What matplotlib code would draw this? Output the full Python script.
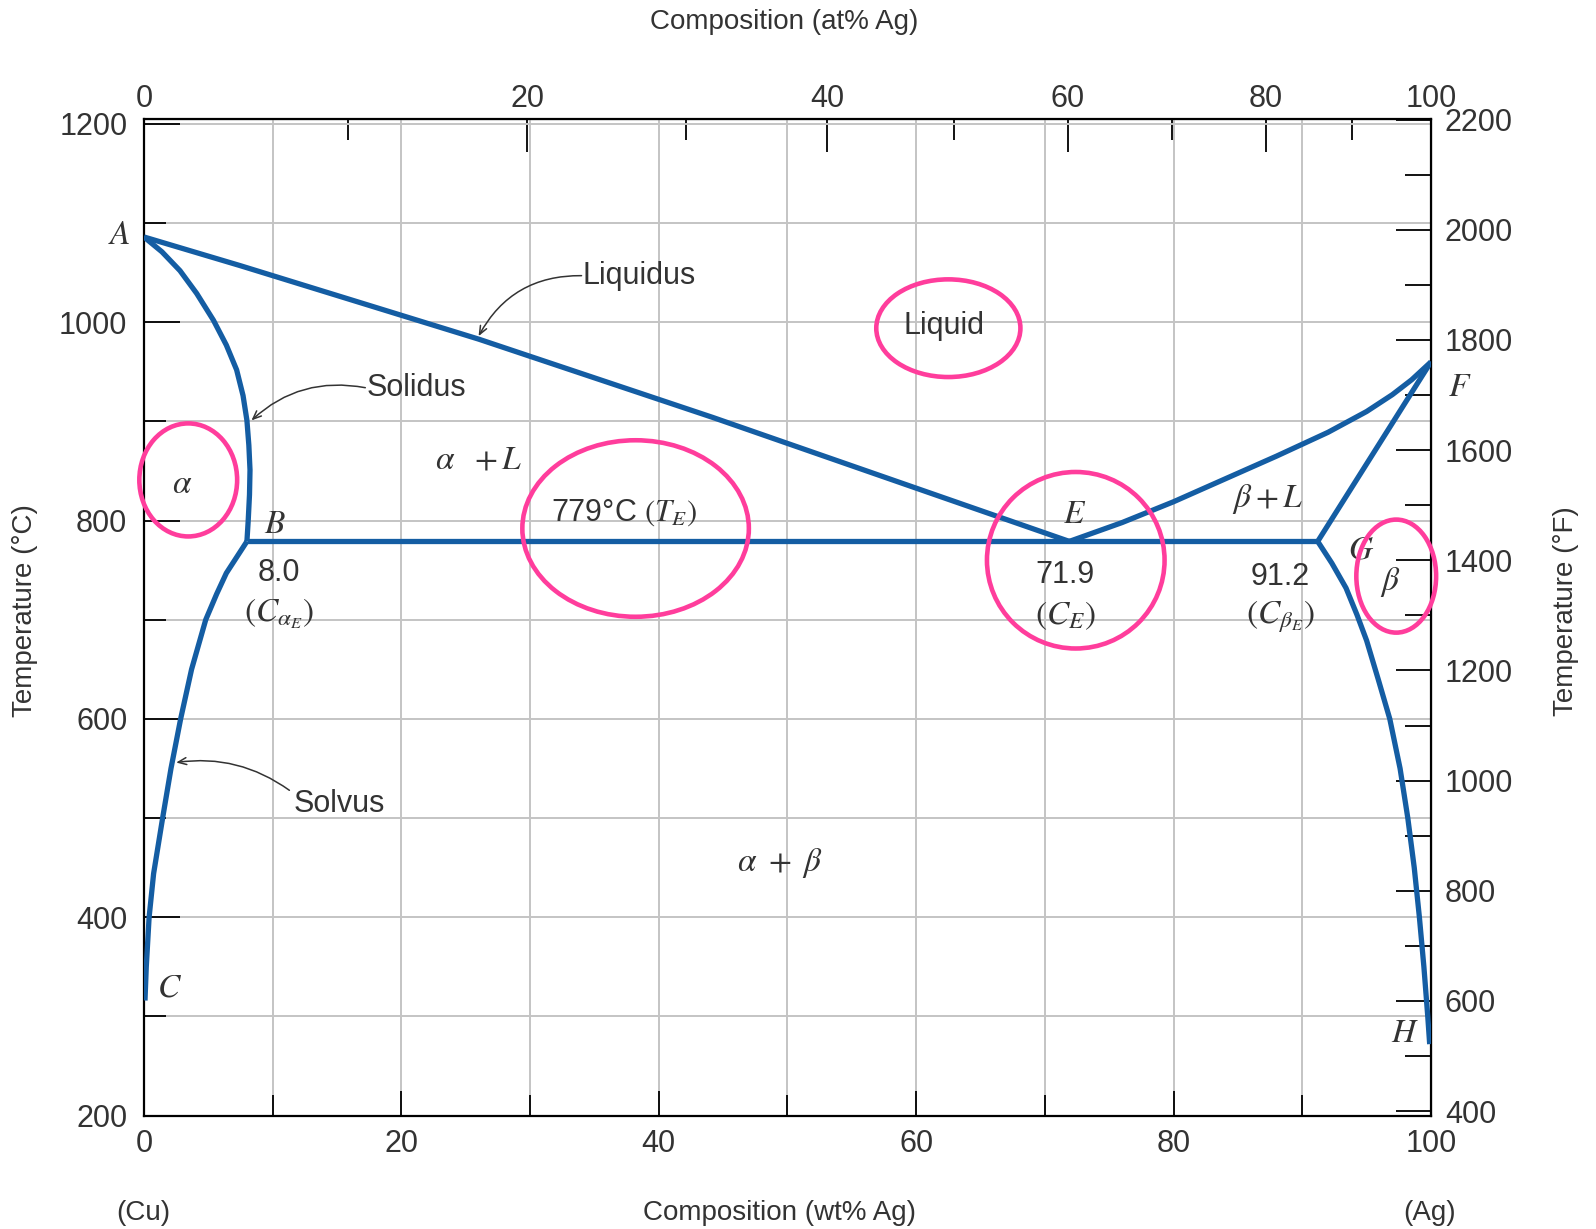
import numpy as np
import matplotlib.pyplot as plt
from matplotlib.patches import Ellipse

# Cu-Ag phase diagram, composition in wt% Ag, temperature in deg C
liquidus_ae_wt = [0, 7.5, 26.0, 44.2, 71.9]
liquidus_ae_t = [1086, 1057, 983, 904, 779]

liquidus_ef_wt = [71.9, 76, 80, 84, 88, 92, 95, 97, 98.5, 100]
liquidus_ef_t = [779, 798, 819, 842, 865, 889, 910, 927, 942, 960]

solidus_ab_wt = [0, 1.4, 2.8, 4.1, 5.4, 6.4, 7.2, 7.7, 8.0, 8.15, 8.24, 8.2, 8.1, 8.0]
solidus_ab_t = [1086, 1071, 1052, 1029, 1002, 977, 952, 926, 901, 876, 851, 826, 800, 779]

solvus_bc_wt = [8.0, 7.2, 6.4, 5.65, 4.8, 3.7, 2.85, 2.1, 1.45, 0.75, 0.4, 0.18, 0.08]
solvus_bc_t = [779, 763, 747, 726, 700, 650, 600, 550, 500, 444, 400, 350, 316]

solidus_fg_wt = [100, 91.2]
solidus_fg_t = [960, 779]

solvus_gh_wt = [91.2, 92.3, 93.4, 94.25, 95.0, 95.9, 96.8, 97.6, 98.2, 98.7, 99.1, 99.45,
                99.75, 99.9]
solvus_gh_t = [779, 757, 732, 705, 679, 640, 600, 550, 500, 450, 400, 350, 300, 272]

eutectic_wt = [8.0, 91.2]
eutectic_t = [779, 779]

x_ticks = [0, 20, 40, 60, 80, 100]
y_ticks_c = [200, 400, 600, 800, 1000, 1200]
y_ticks_f = [400, 600, 800, 1000, 1200, 1400, 1600, 1800, 2000, 2200]
top_ticks_at = [0, 20, 40, 60, 80, 100]

M_AG = 107.868
M_CU = 63.546


def wt_to_at(w):
    w = np.asarray(w, dtype=float)
    a = w / M_AG
    b = (100 - w) / M_CU
    return 100 * a / (a + b)


def at_to_wt(a):
    a = np.asarray(a, dtype=float)
    wa = a * M_AG
    wb = (100 - a) * M_CU
    return 100 * wa / (wa + wb)


def c_to_f(c):
    return np.asarray(c, dtype=float) * 1.8 + 32


def f_to_c(f):
    return (np.asarray(f, dtype=float) - 32) / 1.8


plt.rcParams['font.family'] = ['Liberation Sans', 'DejaVu Sans']
plt.rcParams['mathtext.fontset'] = 'stix'

TXT = '#333333'
BLUE = '#145da3'
PINK = '#ff3d9c'
FS = 22
MFS = 24

fig = plt.figure(figsize=(15.96, 12.29), dpi=100)
ax = fig.add_axes([0.0902, 0.0919, 0.8064, 0.8113])

line_kw = dict(color=BLUE, lw=3.8, solid_joinstyle='round', solid_capstyle='butt', zorder=3)
ax.plot(liquidus_ae_wt, liquidus_ae_t, **line_kw)
ax.plot(liquidus_ef_wt, liquidus_ef_t, **line_kw)
ax.plot(solidus_ab_wt, solidus_ab_t, **line_kw)
ax.plot(solvus_bc_wt, solvus_bc_t, **line_kw)
ax.plot(solidus_fg_wt, solidus_fg_t, **line_kw)
ax.plot(solvus_gh_wt, solvus_gh_t, **line_kw)
ax.plot(eutectic_wt, eutectic_t, **line_kw)

ax.set_xlim(0, 100)
ax.set_ylim(199.5, 1205)

# ticks and grid
ax.set_xticks(x_ticks)
ax.set_xticks(range(0, 101, 10), minor=True)
ax.set_yticks(y_ticks_c)
ax.set_yticks(range(200, 1201, 100), minor=True)
ax.grid(which='both', color='#c4c4c4', lw=1.4, zorder=0)
ax.tick_params(axis='x', which='major', direction='in', length=18, width=1.3,
               labelsize=FS, labelcolor=TXT, pad=9)
ax.tick_params(axis='x', which='minor', direction='in', length=15, width=1.3)
ax.tick_params(axis='y', which='major', direction='in', length=26, width=1.3,
               labelsize=FS, labelcolor=TXT, pad=12)
ax.tick_params(axis='y', which='minor', direction='in', length=16, width=1.3)
for s in ax.spines.values():
    s.set_linewidth(1.6)

secx = ax.secondary_xaxis('top', functions=(wt_to_at, at_to_wt))
secx.set_xticks(top_ticks_at)
secx.set_xticks(range(0, 101, 10), minor=True)
secx.tick_params(which='major', direction='in', length=24, width=1.3,
                 labelsize=FS, labelcolor=TXT, pad=3.5)
secx.tick_params(which='minor', direction='in', length=15, width=1.3)

secy = ax.secondary_yaxis('right', functions=(c_to_f, f_to_c))
secy.set_yticks(y_ticks_f)
secy.set_yticks(range(400, 2201, 100), minor=True)
secy.tick_params(which='major', direction='in', length=25, width=1.3,
                 labelsize=FS, labelcolor=TXT, pad=10)
secy.tick_params(which='minor', direction='in', length=19, width=1.3)

# axis titles
fig.text(0.4887, 0.0128, 'Composition (wt% Ag)', ha='center', va='center', fontsize=20, color=TXT)
fig.text(0.0899, 0.0128, '(Cu)', ha='center', va='center', fontsize=20, color=TXT)
fig.text(0.8960, 0.0128, '(Ag)', ha='center', va='center', fontsize=20, color=TXT)
fig.text(0.4912, 0.9825, 'Composition (at% Ag)', ha='center', va='center', fontsize=20, color=TXT)
fig.text(0.0157, 0.503, 'Temperature (°C)', ha='center', va='center', rotation=90,
         fontsize=20, color=TXT)
fig.text(0.9810, 0.503, 'Temperature (°F)', ha='center', va='center', rotation=90,
         fontsize=20, color=TXT)

# point letters
for lab, x, y in [('A', -1.9, 1087), ('B', 10.2, 796), ('C', 2.0, 329), ('E', 72.3, 806),
                  ('F', 102.2, 934), ('G', 94.6, 770), ('H', 98.0, 283)]:
    ax.text(x, y, '$' + lab + '$', ha='center', va='center', fontsize=MFS, color=TXT,
            clip_on=False)

# phase region labels
ax.text(3.0, 836, r'$\alpha$', ha='center', va='center', fontsize=MFS, color=TXT)
ax.text(96.8, 738, r'$\beta$', ha='center', va='center', fontsize=MFS, color=TXT)
ax.text(26.0, 861, r'$\alpha\ \ +L$', ha='center', va='center', fontsize=MFS, color=TXT)
ax.text(87.3, 822, r'$\beta+L$', ha='center', va='center', fontsize=MFS, color=TXT)
ax.text(49.4, 455, r'$\alpha\ +\ \beta$', ha='center', va='center', fontsize=MFS, color=TXT)
ax.text(62.2, 996, 'Liquid', ha='center', va='center', fontsize=FS, color=TXT)

# eutectic values
ax.text(37.3, 808, r'779°C $(T_E)$', ha='center', va='center', fontsize=FS, color=TXT)
ax.text(10.5, 747, '8.0', ha='center', va='center', fontsize=FS, color=TXT)
ax.text(10.5, 706, r'$(C_{\alpha_E})$', ha='center', va='center', fontsize=MFS, color=TXT)
ax.text(71.6, 745, '71.9', ha='center', va='center', fontsize=FS, color=TXT)
ax.text(71.6, 704, r'$(C_E)$', ha='center', va='center', fontsize=MFS, color=TXT)
ax.text(88.3, 743, '91.2', ha='center', va='center', fontsize=FS, color=TXT)
ax.text(88.3, 703, r'$(C_{\beta_E})$', ha='center', va='center', fontsize=MFS, color=TXT)

# curve name callouts
arrow_kw = dict(arrowstyle='->,head_length=0.6,head_width=0.25', color='#333333', lw=1.1,
                shrinkA=0, shrinkB=0)
ax.text(34.1, 1047, 'Liquidus', ha='left', va='center', fontsize=FS, color=TXT)
ax.annotate('', xy=(26.0, 986), xytext=(34.0, 1047),
            arrowprops=dict(connectionstyle='arc3,rad=0.3', **arrow_kw))
ax.text(17.3, 934, 'Solidus', ha='left', va='center', fontsize=FS, color=TXT)
ax.annotate('', xy=(8.35, 901), xytext=(17.2, 934),
            arrowprops=dict(connectionstyle='arc3,rad=0.25', **arrow_kw))
ax.text(11.6, 514, 'Solvus', ha='left', va='center', fontsize=FS, color=TXT)
ax.annotate('', xy=(2.5, 556), xytext=(11.3, 528),
            arrowprops=dict(connectionstyle='arc3,rad=0.2', **arrow_kw))

# highlight ellipses
for cx, cy, w, h in [(62.5, 994, 11.2, 98.5), (3.44, 841, 7.6, 114),
                     (38.2, 792, 17.6, 178), (72.4, 760, 13.8, 178),
                     (97.3, 744, 6.2, 114)]:
    ax.add_patch(Ellipse((cx, cy), w, h, fill=False, edgecolor=PINK, lw=3.3,
                         clip_on=False, zorder=5))

fig.savefig('out.png', dpi=100)
